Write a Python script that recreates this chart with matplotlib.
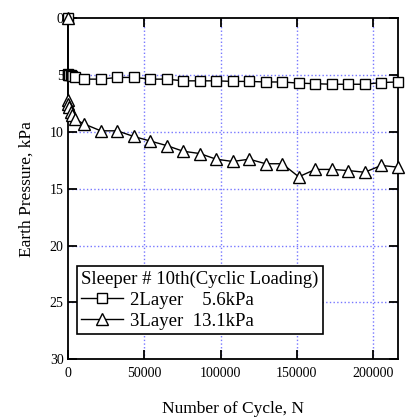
import matplotlib.pyplot as plt
import numpy as np

plt.rcParams['font.family'] = ['Liberation Serif', 'DejaVu Serif']

# cycles: early readings near N=0, then every 10800 cycles
cycles_early = [0, 100, 500, 1000, 2000, 3000, 5000]
cycles_main = [10800, 21600, 32400, 43200, 54000, 64800, 75600, 86400,
               97200, 108000, 118800, 129600, 140400, 151200, 162000,
               172800, 183600, 194400, 205200, 216000]

p2_early = [0, 4.9, 5.0, 5.0, 5.0, 5.1, 5.2]
p2_main = [5.35, 5.35, 5.2, 5.2, 5.35, 5.35, 5.5, 5.5, 5.5, 5.55,
           5.55, 5.6, 5.6, 5.7, 5.75, 5.8, 5.8, 5.8, 5.65, 5.6]

p3_early = [0, 7.2, 7.5, 7.8, 8.2, 8.5, 8.9]
p3_main = [9.3, 9.9, 9.9, 10.4, 10.8, 11.2, 11.7, 11.9, 12.4, 12.6,
           12.4, 12.8, 12.8, 13.95, 13.3, 13.3, 13.4, 13.55, 12.95, 13.1]

labels = ['2Layer    5.6kPa', '3Layer  13.1kPa']
legend_title = 'Sleeper # 10th(Cyclic Loading)'

x = np.array(cycles_early + cycles_main)
y2 = np.array(p2_early + p2_main)
y3 = np.array(p3_early + p3_main)

fig = plt.figure(figsize=(4.13, 4.18), dpi=100)
ax = fig.add_axes([0.164, 0.141, 0.799, 0.815])

grid_kw = dict(color='#7777ff', linestyle=':', linewidth=1.0, zorder=0)
for gx in [50000, 100000, 150000, 200000]:
    ax.axvline(gx, **grid_kw)
for gy in [5, 10, 15, 20, 25]:
    ax.axhline(gy, **grid_kw)

ax.plot(x, y2, '-', color='black', lw=1.0, marker='s', ms=7,
        mfc='white', mec='black', mew=1.0, label=labels[0], clip_on=False, zorder=3)
ax.plot(x, y3, '-', color='black', lw=1.0, marker='^', ms=8,
        mfc='white', mec='black', mew=1.0, label=labels[1], clip_on=False, zorder=4)

ax.set_xlim(0, 216000)
ax.set_ylim(30, 0)
ax.set_xticks([0, 50000, 100000, 150000, 200000])
ax.set_yticks([0, 5, 10, 15, 20, 25, 30])
ax.tick_params(direction='in', length=6.5, width=1.3, top=True, right=True,
               labelsize=10)
ax.tick_params(axis='x', pad=6)
ax.tick_params(axis='y', pad=3)
for s in ax.spines.values():
    s.set_linewidth(1.3)

ax.set_xlabel('Number of Cycle, N', fontsize=12.5, labelpad=15)
ax.set_ylabel('Earth Pressure, kPa', fontsize=12.5, labelpad=11)

leg = ax.legend(title=legend_title, loc='lower left', bbox_to_anchor=(0.027, 0.073),
                fontsize=13.5, title_fontsize=13.5, fancybox=False, framealpha=1,
                edgecolor='black', handlelength=2.2, borderpad=0.25,
                labelspacing=0.2, handletextpad=0.4, borderaxespad=0)
leg._legend_box.align = 'left'
leg.get_frame().set_linewidth(1.2)

fig.savefig('out.png', dpi=100)
